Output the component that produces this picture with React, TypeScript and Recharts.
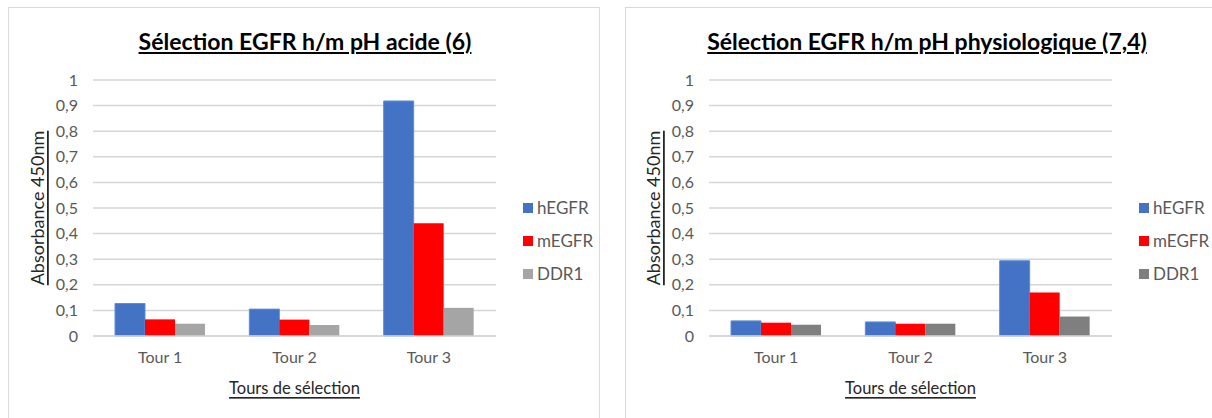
import React from 'react'
import { BarChart, Bar, XAxis, YAxis, CartesianGrid, Legend, Label } from 'recharts'

const categories = ['Tour 1', 'Tour 2', 'Tour 3']
const seriesNames = ['hEGFR', 'mEGFR', 'DDR1']

// pH acide (6)
const acideH = [0.127, 0.105, 0.918]
const acideM = [0.065, 0.064, 0.44]
const acideD = [0.048, 0.043, 0.11]

// pH physiologique (7,4)
const physioH = [0.059, 0.055, 0.294]
const physioM = [0.052, 0.048, 0.17]
const physioD = [0.044, 0.048, 0.076]

const yTicks = [0, 0.1, 0.2, 0.3, 0.4, 0.5, 0.6, 0.7, 0.8, 0.9, 1]

const FONT = 'Lato, "Open Sans", sans-serif'
const TICK = { fontSize: 16, fill: '#595959' }

function buildRows(h: number[], m: number[], d: number[]) {
  return categories.map((name, i) => ({ name, hEGFR: h[i], mEGFR: m[i], DDR1: d[i] }))
}

function LegendBox({ payload }: any) {
  // keep the series order, not the sorted one
  const items = seriesNames
    .map((s) => (payload || []).find((p: any) => p.value === s))
    .filter(Boolean)
  return (
    <div>
      {items.map((p: any) => (
        <div key={p.value} style={{ display: 'flex', alignItems: 'center', height: 33, fontSize: 17, color: '#595959' }}>
          <span style={{ width: 10, height: 10, background: p.color, marginRight: 4 }} />
          {p.value}
        </div>
      ))}
    </div>
  )
}

interface PanelProps {
  title: string
  left: number
  width: number
  titleCenter: number
  rows: any[]
  colors: string[]
}

function Panel({ title, left, width, titleCenter, rows, colors }: PanelProps) {
  return (
    <div style={{ position: 'absolute', left, top: 0, width, height: 418 }}>
      <div
        style={{
          position: 'absolute', left: titleCenter - 300, width: 600, top: 26, textAlign: 'center',
          fontSize: 23, fontWeight: 700, textDecoration: 'underline', color: '#000', lineHeight: '30px',
        }}
      >
        {title}
      </div>
      <BarChart
        width={width}
        height={418}
        data={rows}
        margin={{ top: 80, right: width - 496, bottom: 52, left: 33 }}
        barSize={30}
        barGap={0}
      >
        <CartesianGrid vertical={false} stroke="#d6d6d6" strokeWidth={1.5} />
        <XAxis
          dataKey="name"
          axisLine={{ stroke: '#d6d6d6', strokeWidth: 1.5 }}
          tickLine={false}
          tickSize={0}
          tickMargin={16}
          tick={TICK}
          height={30}
        >
          <Label
            content={({ viewBox }: any) => (
              <text
                x={viewBox.x + viewBox.width / 2}
                y={viewBox.y + 52}
                textAnchor="middle"
                dominantBaseline="central"
                fontSize={16.5}
                fill="#262626"
                style={{ textDecoration: 'underline' }}
              >
                Tours de sélection
              </text>
            )}
          />
        </XAxis>
        <YAxis
          domain={[0, 1]}
          ticks={yTicks}
          axisLine={false}
          tickLine={false}
          tickSize={0}
          tickMargin={15}
          tick={TICK}
          width={60}
          tickFormatter={(v: number) => String(v).replace('.', ',')}
        >
          <Label
            content={({ viewBox }: any) => {
              const cx = viewBox.x + 4
              const cy = viewBox.y + viewBox.height / 2
              return (
                <text
                  x={cx}
                  y={cy}
                  transform={`rotate(-90 ${cx} ${cy})`}
                  textAnchor="middle"
                  dominantBaseline="central"
                  fontSize={18}
                  fill="#262626"
                  style={{ textDecoration: 'underline' }}
                >
                  Absorbance 450nm
                </text>
              )
            }}
          />
        </YAxis>
        <Legend
          layout="vertical"
          align="center"
          verticalAlign="middle"
          content={<LegendBox />}
          wrapperStyle={{ left: 523, top: 191, width: 85 }}
        />
        {seriesNames.map((s, i) => (
          <Bar
            key={s}
            dataKey={s}
            fill={colors[i]}
            stroke={i === 0 ? '#5b8fd6' : undefined}
            strokeWidth={i === 0 ? 1 : 0}
            isAnimationActive={false}
          />
        ))}
      </BarChart>
    </div>
  )
}

export default function App() {
  return (
    <div style={{ position: 'absolute', left: 0, top: 0, width: 1212, height: 418, background: '#fff', fontFamily: FONT, overflow: 'hidden' }}>
      <div style={{ position: 'absolute', left: 8, top: 7, width: 590, height: 420, border: '1.5px solid #d9d9d9' }} />
      <div style={{ position: 'absolute', left: 625, top: 7, width: 610, height: 420, border: '1.5px solid #d9d9d9' }} />
      <Panel
        title="Sélection EGFR h/m pH acide (6)"
        left={0}
        width={610}
        titleCenter={305}
        rows={buildRows(acideH, acideM, acideD)}
        colors={['#4472c4', '#ff0000', '#a5a5a5']}
      />
      <Panel
        title="Sélection EGFR h/m pH physiologique (7,4)"
        left={616}
        width={596}
        titleCenter={311}
        rows={buildRows(physioH, physioM, physioD)}
        colors={['#4472c4', '#ff0000', '#7f7f7f']}
      />
    </div>
  )
}
